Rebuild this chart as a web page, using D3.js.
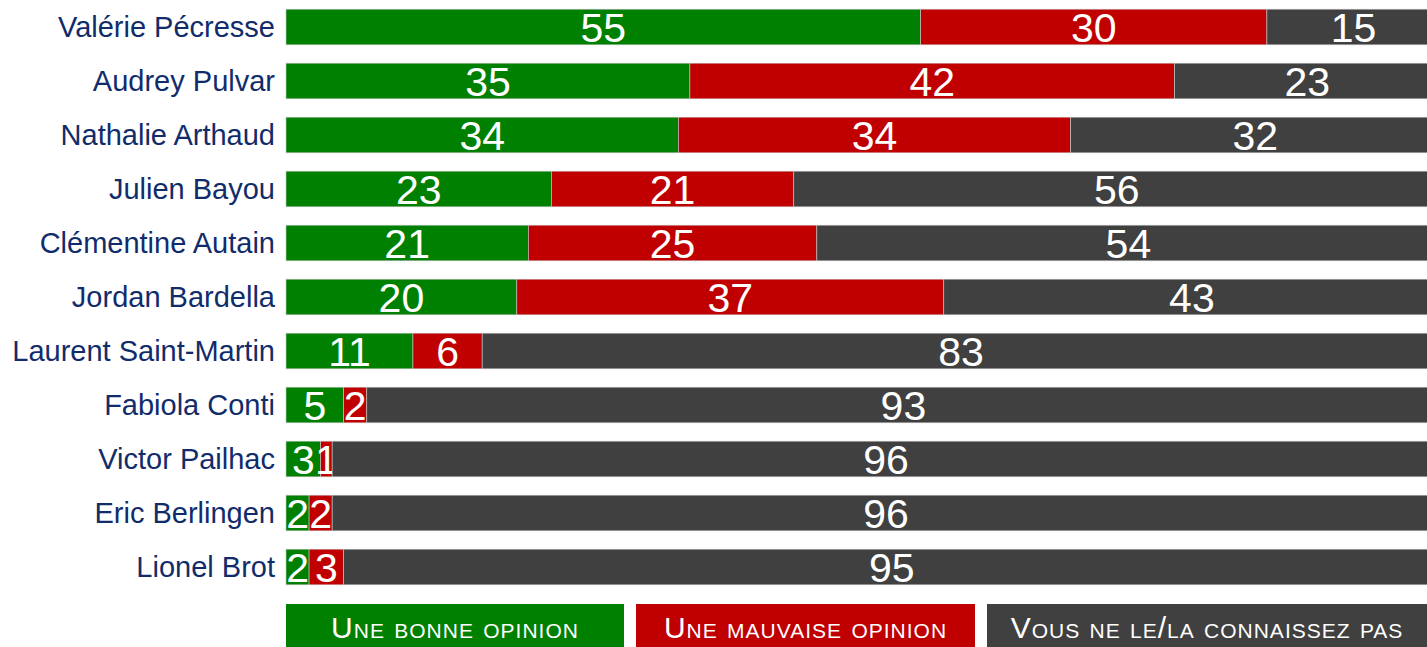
<!DOCTYPE html>
<html>
<head>
<meta charset="utf-8">
<script src="https://cdn.jsdelivr.net/npm/d3@7"></script>
<style>
  body { margin: 0; background: #fff; overflow: hidden; }
  text { font-family: "Liberation Sans", Arial, sans-serif; }
</style>
</head>
<body>
<div id="chart"></div>
<script>
var names = ["Valérie Pécresse", "Audrey Pulvar", "Nathalie Arthaud", "Julien Bayou",
    "Clémentine Autain", "Jordan Bardella", "Laurent Saint-Martin", "Fabiola Conti",
    "Victor Pailhac", "Eric Berlingen", "Lionel Brot"];
var bonne = [55, 35, 34, 23, 21, 20, 11, 5, 3, 2, 2];
var mauvaise = [30, 42, 34, 21, 25, 37, 6, 2, 1, 2, 3];
var inconnu = [15, 23, 32, 56, 54, 43, 83, 93, 96, 96, 95];
var seriesNames = ["Une bonne opinion", "Une mauvaise opinion", "Vous ne le/la connaissez pas"];
var colors = ["#008000", "#c00000", "#404040"];

function createChart() {
    var width = 1427, height = 647;
    var left = 286;

    var svg = d3.select("#chart").append("svg")
        .attr("width", width)
        .attr("height", height);

    var x = d3.scaleLinear().domain([0, 100]).range([left, left + 1154]);
    var y = d3.scaleBand().domain(names).range([0, 594]).paddingInner(0.34).paddingOuter(0.17);

    var rows = names.map(function(n, i) {
        return { name: n, values: [bonne[i], mauvaise[i], inconnu[i]] };
    });
    var stack = d3.stack().keys([0, 1, 2]).value(function(d, k) { return d.values[k]; });
    var layers = stack(rows);

    var g = svg.append("g");

    layers.forEach(function(layer, k) {
        var seg = g.selectAll(".s" + k).data(layer).enter().append("g");
        seg.append("rect")
            .attr("x", function(d) { return x(d[0]); })
            .attr("y", function(d) { return y(d.data.name); })
            .attr("width", function(d) { return x(d[1]) - x(d[0]); })
            .attr("height", y.bandwidth())
            .attr("fill", colors[k])
            .attr("stroke", "#c8c8c8")
            .attr("stroke-width", 0.6);
        seg.append("text")
            .attr("x", function(d) { return (x(d[0]) + x(d[1])) / 2; })
            .attr("y", function(d) { return y(d.data.name) + y.bandwidth() / 2 + 15; })
            .attr("text-anchor", "middle")
            .attr("fill", "#fff")
            .attr("font-size", 41)
            .text(function(d) { return d[1] - d[0]; });
    });

    g.selectAll(".name").data(names).enter().append("text")
        .attr("x", 275)
        .attr("y", function(d) { return y(d) + y.bandwidth() / 2 + 10; })
        .attr("text-anchor", "end")
        .attr("fill", "#112c6b")
        .attr("font-size", 29)
        .text(function(d) { return d; });

    // legend
    var legX = [286, 636, 987];
    var legW = [338, 339, 440];
    var leg = svg.selectAll(".leg").data(seriesNames).enter().append("g");
    leg.append("rect")
        .attr("x", function(d, i) { return legX[i]; })
        .attr("y", 604)
        .attr("width", function(d, i) { return legW[i]; })
        .attr("height", 43)
        .attr("fill", function(d, i) { return colors[i]; });
    leg.append("text")
        .attr("x", function(d, i) { return legX[i] + legW[i] / 2; })
        .attr("y", 638)
        .attr("text-anchor", "middle")
        .attr("fill", "#fff")
        .attr("font-size", 30)
        .attr("letter-spacing", 1)
        .style("font-variant", "small-caps")
        .text(function(d) { return d; });
}

createChart();
</script>
</body>
</html>
